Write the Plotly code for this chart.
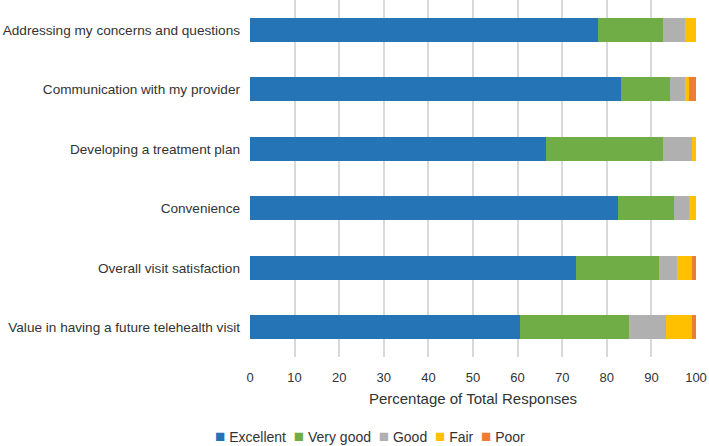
import plotly.graph_objects as go

categories = [
    "Addressing my concerns and questions",
    "Communication with my provider",
    "Developing a treatment plan",
    "Convenience",
    "Overall visit satisfaction",
    "Value in having a future telehealth visit",
]
excellent = [78.1, 83.2, 66.4, 82.4, 73.1, 60.5]
very_good = [14.4, 11.0, 26.1, 12.6, 18.6, 24.5]
good = [5.0, 3.3, 6.7, 3.4, 4.1, 8.3]
fair = [2.5, 0.9, 0.8, 1.6, 3.4, 5.9]
poor = [0.0, 1.6, 0.0, 0.0, 0.8, 0.8]

series = [
    ("Excellent", excellent, "#2574B5"),
    ("Very good", very_good, "#70AD47"),
    ("Good", good, "#B0B0B0"),
    ("Fair", fair, "#FFC000"),
    ("Poor", poor, "#ED7D31"),
]
x_ticks = list(range(0, 101, 10))

fig = go.Figure()
for name, vals, color in series:
    fig.add_trace(go.Bar(
        y=categories, x=vals, name=name, orientation="h",
        marker=dict(color=color, line=dict(width=0)),
        showlegend=False,
    ))

font = "Liberation Sans, Arial, sans-serif"

# compact legend drawn as text, like the reference
legend_text = "  ".join(
    f'<span style="color:{c};font-size:17px">■</span> {n}' for n, _, c in series
)
fig.add_annotation(
    text=legend_text, xref="paper", yref="paper",
    x=0.269, y=-0.222, xanchor="center", yanchor="middle",
    showarrow=False, font=dict(size=14, color="#333333", family=font),
)

fig.update_layout(
    barmode="stack",
    bargap=0.6,
    width=709, height=446,
    margin=dict(l=250, r=13, t=0, b=89),
    plot_bgcolor="white", paper_bgcolor="white",
    font=dict(family=font, size=13, color="#333333"),
    xaxis=dict(
        range=[0, 100], tickvals=x_ticks, showgrid=True,
        gridcolor="#D9D9D9", gridwidth=1.5, zeroline=False,
        showline=False, ticks="", tickfont=dict(size=13),
        automargin=False, ticklabelstandoff=11,
        title=dict(text="Percentage of Total Responses", font=dict(size=15), standoff=9),
    ),
    yaxis=dict(
        autorange="reversed", showgrid=False, ticks="",
        ticklabelstandoff=9, automargin=False,
        tickfont=dict(size=13.6),
    ),
)

fig.write_html(
    "out.html",
    config={"displayModeBar": False},
    post_script="document.body.style.margin='0px';document.body.style.overflow='hidden';",
)
